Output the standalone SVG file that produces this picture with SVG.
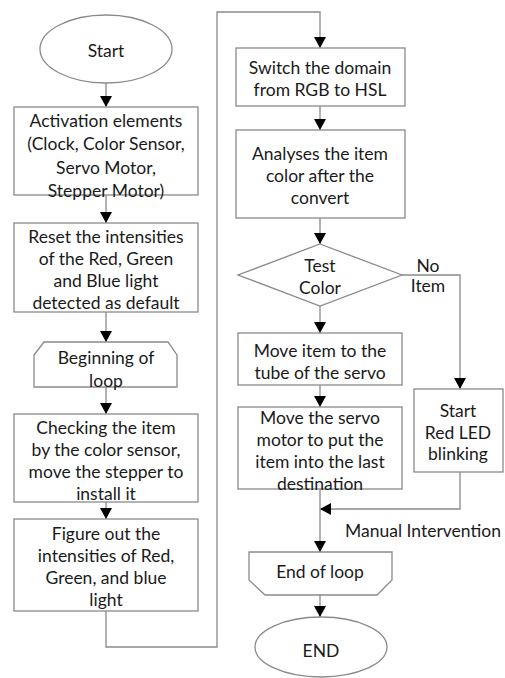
<svg xmlns="http://www.w3.org/2000/svg" width="505" height="678" viewBox="0 0 505 678">
<defs>
<marker id="arr" markerUnits="userSpaceOnUse" markerWidth="12" markerHeight="12" refX="11" refY="6" orient="auto">
<path d="M0,0 L11,6 L0,12 z" fill="#000"/>
</marker>
<style>
.s{fill:#fff;stroke:#8a8a8a;stroke-width:1.3}
.c{fill:none;stroke:#8a8a8a;stroke-width:1.3;marker-end:url(#arr)}
.l{fill:none;stroke:#8a8a8a;stroke-width:1.3}
text{font-family:Lato,"Liberation Sans",sans-serif;font-size:17.5px;fill:#1a1a1a;text-anchor:middle;dominant-baseline:central}
</style>
</defs>
<rect width="505" height="678" fill="#fff"/>
<g id="connectors">
<path class="c" d="M106,83 V107"/>
<path class="c" d="M106,195 V223"/>
<path class="c" d="M106,312 V342"/>
<path class="c" d="M106,387 V414"/>
<path class="c" d="M106,502 V519"/>
<path class="c" d="M106,611 V647 H217 V12 H320 V48"/>
<path class="c" d="M320,106 V130"/>
<path class="c" d="M320,218 V244"/>
<path class="c" d="M320,306 V333"/>
<path class="c" d="M320,385 V407"/>
<path class="c" d="M402,275 H460 V389"/>
<path class="c" d="M460,472 V509 H320"/>
<path class="c" d="M320,489 V552"/>
<path class="c" d="M320,595 V617"/>
<text x="428" y="265">No</text>
<text x="428" y="285">Item</text>
<text x="423" y="530">Manual Intervention</text>
</g>
<g id="start">
<ellipse class="s" cx="106" cy="49" rx="66" ry="34"/>
<text x="106" y="50">Start</text>
</g>
<g id="activation">
<rect class="s" x="14" y="107" width="184" height="88"/>
<text x="106" y="120">Activation elements</text>
<text x="106" y="143">(Clock, Color Sensor,</text>
<text x="106" y="167">Servo Motor,</text>
<text x="106" y="190">Stepper Motor)</text>
</g>
<g id="reset">
<rect class="s" x="14" y="223" width="184" height="89"/>
<text x="106" y="236">Reset the intensities</text>
<text x="106" y="258">of the Red, Green</text>
<text x="106" y="280">and Blue light</text>
<text x="106" y="302">detected as default</text>
</g>
<g id="loop-begin">
<path class="s" d="M44,342 H168 L177,355 V387 H34 V355 Z"/>
<text x="106" y="357">Beginning of</text>
<text x="106" y="380">loop</text>
</g>
<g id="checking">
<rect class="s" x="14" y="414" width="184" height="88"/>
<text x="106" y="427">Checking the item</text>
<text x="106" y="449">by the color sensor,</text>
<text x="106" y="471">move the stepper to</text>
<text x="106" y="493">install it</text>
</g>
<g id="figure">
<rect class="s" x="14" y="519" width="184" height="92"/>
<text x="106" y="533">Figure out the</text>
<text x="106" y="555">intensities of Red,</text>
<text x="106" y="577">Green, and blue</text>
<text x="106" y="599">light</text>
</g>
<g id="switch">
<rect class="s" x="236" y="48" width="169" height="58"/>
<text x="320" y="67">Switch the domain</text>
<text x="320" y="89">from RGB to HSL</text>
</g>
<g id="analyses">
<rect class="s" x="236" y="130" width="169" height="88"/>
<text x="320" y="153">Analyses the item</text>
<text x="320" y="175">color after the</text>
<text x="320" y="197">convert</text>
</g>
<g id="test">
<path class="s" d="M320,244 L402,275 L320,306 L238,275 Z"/>
<text x="320" y="265">Test</text>
<text x="320" y="287">Color</text>
</g>
<g id="move-item">
<rect class="s" x="238" y="333" width="164" height="52"/>
<text x="320" y="350">Move item to the</text>
<text x="320" y="372">tube of the servo</text>
</g>
<g id="move-servo">
<rect class="s" x="238" y="407" width="164" height="82"/>
<text x="320" y="417">Move the servo</text>
<text x="320" y="439">motor to put the</text>
<text x="320" y="461">item into the last</text>
<text x="320" y="483">destination</text>
</g>
<g id="led">
<rect class="s" x="414" y="389" width="89" height="83"/>
<text x="458" y="410">Start</text>
<text x="458" y="432">Red LED</text>
<text x="458" y="453">blinking</text>
</g>
<g id="loop-end">
<path class="s" d="M249,552 H392 V580 L377,595 H265 L249,580 Z"/>
<text x="320" y="571">End of loop</text>
</g>
<g id="end">
<ellipse class="s" cx="321" cy="647" rx="66" ry="30"/>
<text x="321" y="650">END</text>
</g>
</svg>
